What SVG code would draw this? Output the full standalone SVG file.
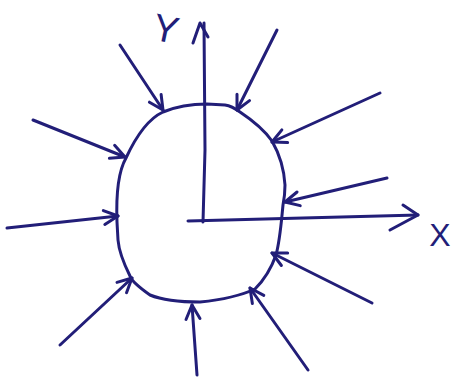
<svg xmlns="http://www.w3.org/2000/svg" width="455" height="381" viewBox="0 0 455 381">
<style>
.ink{fill:none;stroke:#221e78;stroke-width:3;stroke-linecap:round;stroke-linejoin:round}
.lbl{font-family:"Liberation Sans",Arial,sans-serif;fill:#221e78}
</style>
<defs>
<marker id="ah" markerUnits="userSpaceOnUse" markerWidth="20" markerHeight="20" viewBox="0 0 20 20" refX="17" refY="10" orient="auto">
<path d="M3,3 L17,10 L3,17" fill="none" stroke="#221e78" stroke-width="3" stroke-linecap="round" stroke-linejoin="round"/>
</marker>
</defs>
<rect width="455" height="381" fill="#ffffff"/>
<g id="body">
<path class="ink" d="M117,222 C116,195 118,172 126,158 C138,132 150,118 163,112 C180,105 195,104 207,104 L225,105 C232,106 236,109 240,112 C255,122 265,131 272,141 C280,155 284,168 285,185 C285,195 284,200 283,205 C281,225 280,240 276,255 C270,272 262,282 255,289 C240,296 220,300 200,302 C180,302 162,300 150,295 C140,288 132,282 130,276 C123,262 119,252 118,240 Z"/>
</g>
<g id="axes">
<path class="ink" d="M203,222 L205,150 L204,23" />
<path class="ink" d="M193,43 L200,23 L208,37"/>
<path class="ink" d="M188,221 L418,215"/>
<path class="ink" d="M403,205 L418,215 L390,230"/>
</g>
<g id="labels">
<text class="lbl" x="166" y="42" font-size="38" text-anchor="middle" transform="rotate(12 166 28)">Y</text>
<text class="lbl" x="440" y="246" font-size="32" text-anchor="middle">X</text>
</g>
<g id="connectors">
<path class="ink" marker-end="url(#ah)" d="M120,45 L163,110"/>
<path class="ink" marker-end="url(#ah)" d="M277,30 L237,110"/>
<path class="ink" marker-end="url(#ah)" d="M33,120 L125,157"/>
<path class="ink" marker-end="url(#ah)" d="M380,93 L272,142"/>
<path class="ink" marker-end="url(#ah)" d="M387,178 L285,202"/>
<path class="ink" marker-end="url(#ah)" d="M7,228 L118,216"/>
<path class="ink" marker-end="url(#ah)" d="M372,303 L272,253"/>
<path class="ink" marker-end="url(#ah)" d="M308,370 L250,288"/>
<path class="ink" marker-end="url(#ah)" d="M197,375 L192,305"/>
<path class="ink" marker-end="url(#ah)" d="M60,345 L132,278"/>
</g>
</svg>
